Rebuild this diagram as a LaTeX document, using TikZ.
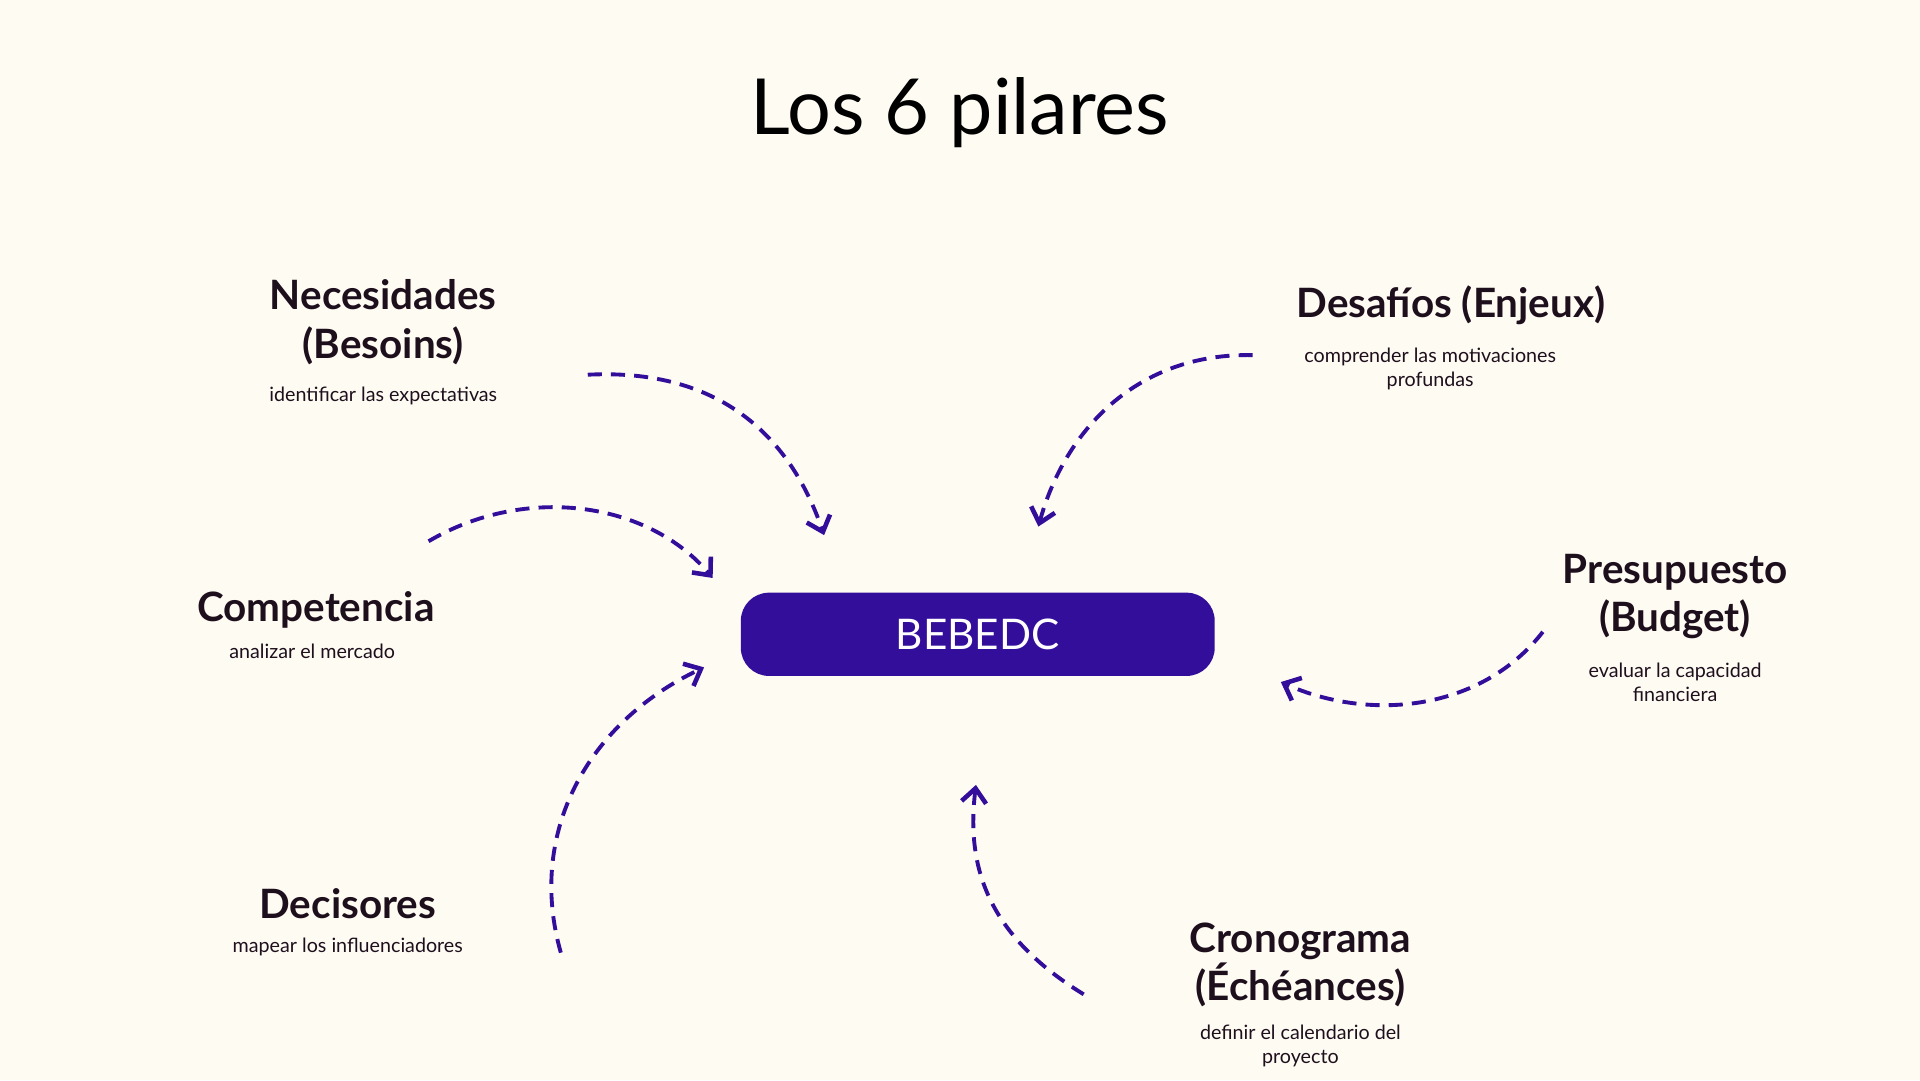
\documentclass[tikz,border=0pt]{standalone}
\usepackage{fontspec}
\setmainfont{Lato}
\usetikzlibrary{arrows.meta}
\definecolor{bgcream}{HTML}{FEFBF3}
\definecolor{pilarpurple}{HTML}{330E9A}
\definecolor{pilartext}{HTML}{1E0F1C}
\tikzset{
  heading/.style={align=center, font=\fontsize{11.5}{13.8}\selectfont\bfseries, text=pilartext},
  subtext/.style={align=center, font=\fontsize{5.6}{6.9}\selectfont, text=pilartext},
  pilar/.style={draw=pilarpurple, line width=1.1pt, dash pattern=on 4pt off 2.6pt,
    -{Straight Barb[length=4pt,width=7pt,line width=1.3pt]}}
}
\begin{document}
\begin{tikzpicture}[x=0.012245cm, y=-0.012245cm]
    % Background
    \fill[bgcream] (0,0) rectangle (1568,882);
    \useasboundingbox (0,0) rectangle (1568,882);

    % Title
    \node[font=\fontsize{22}{26}\selectfont, text=black] (title) at (784,92) {Los 6 pilares};

    % Center box
    \node[fill=pilarpurple, rounded corners=8pt, minimum width=387*0.012245cm,
      minimum height=68*0.012245cm, text=white, font=\fontsize{12}{14}\selectfont] (bebedc) at (798.5,518) {BEBEDC};

    % Pillars
    \node[heading] (besoins) at (313,263) {Necesidades\\(Besoins)};
    \node[subtext] (besoinsSub) at (313,323) {identificar las expectativas};
    \node[heading] (enjeux) at (1185,249) {Desafíos (Enjeux)};
    \node[subtext] (enjeuxSub) at (1168,301) {comprender las motivaciones\\profundas};
    \node[heading] (competencia) at (258,498) {Competencia};
    \node[subtext] (competenciaSub) at (255,532) {analizar el mercado};
    \node[heading] (budget) at (1368,487) {Presupuesto\\(Budget)};
    \node[subtext] (budgetSub) at (1368,557) {evaluar la capacidad\\financiera};
    \node[heading] (decisores) at (284,738) {Decisores};
    \node[subtext] (decisoresSub) at (284,773) {mapear los influenciadores};
    \node[heading] (echeances) at (1062,788) {Cronograma\\(Échéances)};
    \node[subtext] (echeancesSub) at (1062,854) {definir el calendario del\\proyecto};

    % Arrow ends
    \coordinate (b0) at (480,306);  \coordinate (b1) at (673,437);
    \coordinate (e0) at (1023,290); \coordinate (e1) at (848,430);
    \coordinate (c0) at (350,442);  \coordinate (c1) at (582,472);
    \coordinate (p0) at (1260,516); \coordinate (p1) at (1046,557);
    \coordinate (d0) at (458,778);  \coordinate (d1) at (575,545);
    \coordinate (k0) at (885,812);  \coordinate (k1) at (797,641);

    % Arrows
    \draw[pilar] (b0) .. controls (600,300) and (650,370) .. (b1);
    \draw[pilar] (e0) .. controls (930,288) and (870,350) .. (e1);
    \draw[pilar] (c0) .. controls (430,395) and (530,410) .. (c1);
    \draw[pilar] (p0) .. controls (1210,580) and (1120,590) .. (p1);
    \draw[pilar] (d0) .. controls (430,680) and (480,590) .. (d1);
    \draw[pilar] (k0) .. controls (800,760) and (790,700) .. (k1);
\end{tikzpicture}
\end{document}
